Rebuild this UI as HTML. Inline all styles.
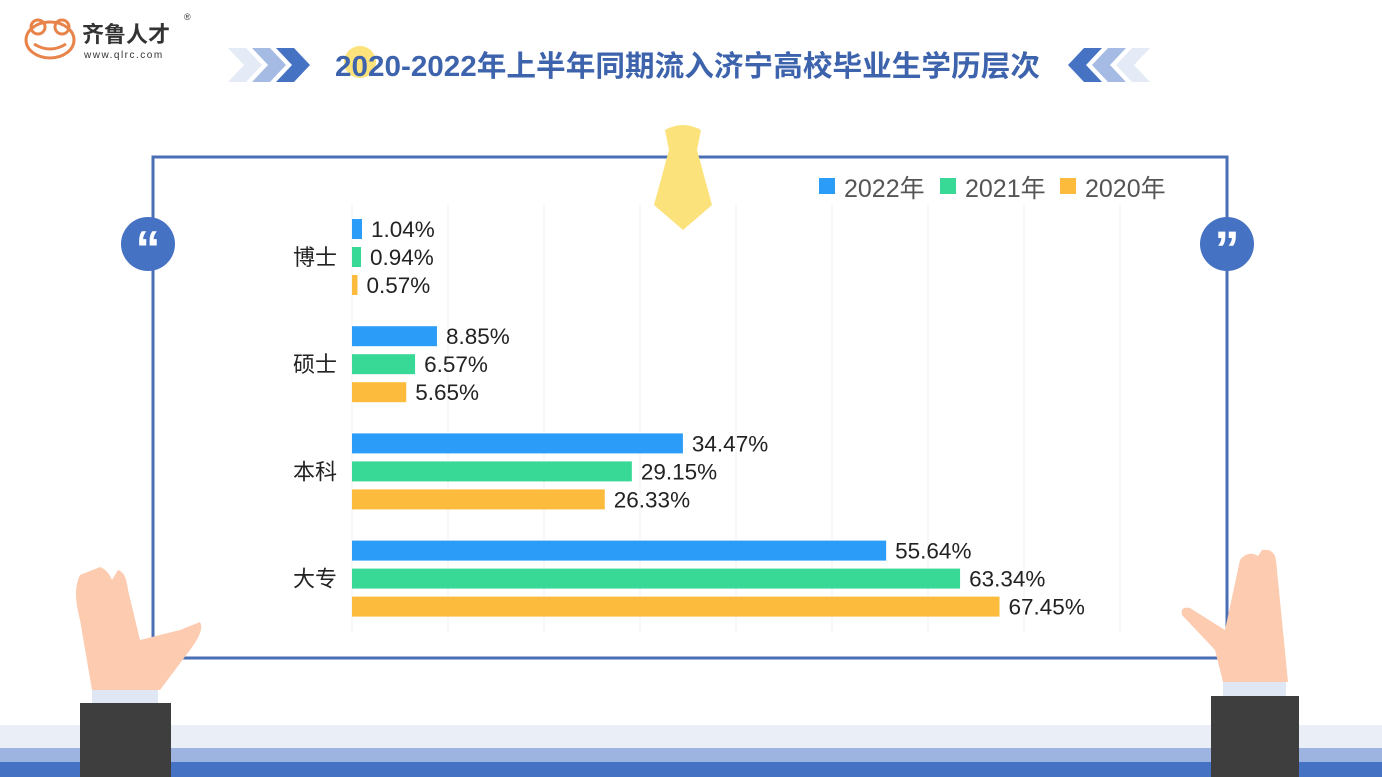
<!DOCTYPE html>
<html><head><meta charset="utf-8"><style>
html,body{margin:0;padding:0;background:#fff;}
svg{display:block;font-family:"Liberation Sans","Noto Sans CJK SC",sans-serif;}
</style></head><body>
<svg width="1382" height="777" viewBox="0 0 1382 777">
<g>
<ellipse cx="50" cy="40" rx="24" ry="18" fill="none" stroke="#e8844a" stroke-width="3"/>
<circle cx="38" cy="27" r="7" fill="none" stroke="#e8844a" stroke-width="3"/>
<circle cx="62" cy="27" r="7" fill="none" stroke="#e8844a" stroke-width="3"/>
<path d="M34 44 Q50 54 66 44" fill="none" stroke="#e8844a" stroke-width="3"/>
<text x="82" y="42" font-size="22" font-weight="bold" fill="#333">齐鲁人才</text>
<text x="84" y="58" font-size="10" fill="#333" letter-spacing="1.5">www.qlrc.com</text>
<text x="184" y="20" font-size="9" fill="#333">®</text>
</g>
<g>
<path d="M228 48 h18 l16 17 l-16 17 h-18 l16 -17z" fill="#e4eaf6"/>
<path d="M252 48 h18 l16 17 l-16 17 h-18 l16 -17z" fill="#a6bbe3"/>
<path d="M276 48 h18 l16 17 l-16 17 h-18 l16 -17z" fill="#4672c4"/>
</g>
<g>
<path d="M1150 48 h-18 l-16 17 l16 17 h18 l-16 -17z" fill="#e4eaf6"/>
<path d="M1126 48 h-18 l-16 17 l16 17 h18 l-16 -17z" fill="#a6bbe3"/>
<path d="M1102 48 h-18 l-16 17 l16 17 h18 l-16 -17z" fill="#4672c4"/>
</g>
<circle cx="360" cy="62" r="16" fill="#fbe27a"/>
<text x="335" y="76" font-size="29" font-weight="bold" fill="#3e63ad" textLength="705" lengthAdjust="spacingAndGlyphs">2020-2022年上半年同期流入济宁高校毕业生学历层次</text>
<rect x="153" y="157" width="1074" height="501" fill="#fff" stroke="#4a6fb5" stroke-width="3"/>
<g>
<path d="M665 130 Q683 120 701 130 L697 150 L669 150Z" fill="#fbe27a"/>
<path d="M669 150 L697 150 L712 205 L683 230 L654 205Z" fill="#fbe27a"/>
</g>
<g><circle cx="148" cy="244" r="27" fill="#4672c4"/><text x="148" y="266" font-size="50" font-weight="bold" fill="#fff" text-anchor="middle">“</text></g>
<g><circle cx="1227" cy="244" r="27" fill="#4672c4"/><text x="1227" y="266" font-size="50" font-weight="bold" fill="#fff" text-anchor="middle">”</text></g>
<rect x="0" y="725" width="1382" height="23" fill="#e9eef7"/>
<rect x="0" y="748" width="1382" height="14" fill="#9db3e0"/>
<rect x="0" y="762" width="1382" height="15" fill="#4672c4"/>
<g>
<path d="M92 690 L80 620 Q72 590 80 575 L100 567 Q108 570 112 580 L118 570 Q126 572 128 590 L140 640 L180 630 L200 622 Q205 630 190 650 L160 690Z" fill="#fccbb0"/>
<rect x="92" y="690" width="66" height="14" fill="#dfe7f5"/>
<rect x="80" y="703" width="91" height="74" fill="#3e3e3e"/>
</g>
<g>
<path d="M1223 682 L1215 650 L1182 615 Q1180 606 1190 608 L1225 630 L1240 560 Q1248 550 1258 556 L1262 550 Q1274 548 1276 560 L1288 682Z" fill="#fccbb0"/>
<rect x="1223" y="682" width="63" height="14" fill="#dfe7f5"/>
<rect x="1211" y="696" width="88" height="81" fill="#3e3e3e"/>
</g>
<g id="chart"></g>
</svg>
<script>
const categories = ["博士","硕士","本科","大专"];
const series2022 = [1.04, 8.85, 34.47, 55.64];
const series2021 = [0.94, 6.57, 29.15, 63.34];
const series2020 = [0.57, 5.65, 26.33, 67.45];
const seriesNames = ["2022年","2021年","2020年"];
const tickValues = [0,10,20,30,40,50,60,70,80];

const colors = ["#2b9cf7","#38d996","#fdbb3e"];
const allSeries = [series2022, series2021, series2020];
const NS = "http://www.w3.org/2000/svg";
const g = document.getElementById('chart');
const x0 = 352, pxPer = 9.6;
function xScale(v){ return x0 + v*pxPer; }
function groupY(i){ return 219 + i*107.2; }
function mk(tag, attrs){ const e=document.createElementNS(NS,tag); for(const k in attrs) e.setAttribute(k, attrs[k]); g.appendChild(e); return e; }

tickValues.forEach(t=>{
  const l = mk('line',{x1:xScale(t),x2:xScale(t),y1:203,y2:632,stroke:'#eef0f3','stroke-width':1});
  
  
});

categories.forEach((c,i)=>{
  const y = groupY(i);
  const lab = mk('text',{x:337,y:y+28+18,'font-size':22,fill:'#222','text-anchor':'end'});
  lab.textContent = c;
  
  
  allSeries.forEach((s,j)=>{
    const by = y + j*28;
    const r = mk('rect',{x:x0,y:by,width:xScale(s[i])-x0,height:20,fill:colors[j]});
    
    
    const t = mk('text',{x:xScale(s[i])+9,y:by+18,'font-size':22.5,fill:'#222'});
    t.textContent = s[i].toFixed(2)+'%';
    
    
  });
});

const legX = [819, 940, 1060];
seriesNames.forEach((n,j)=>{
  const r = mk('rect',{x:legX[j],y:178,width:16,height:16,fill:colors[j]});
  
  
  const t = mk('text',{x:legX[j]+25,y:197,'font-size':25,fill:'#555'});
  t.textContent = n;
  
  
});
</script>
</body></html>
